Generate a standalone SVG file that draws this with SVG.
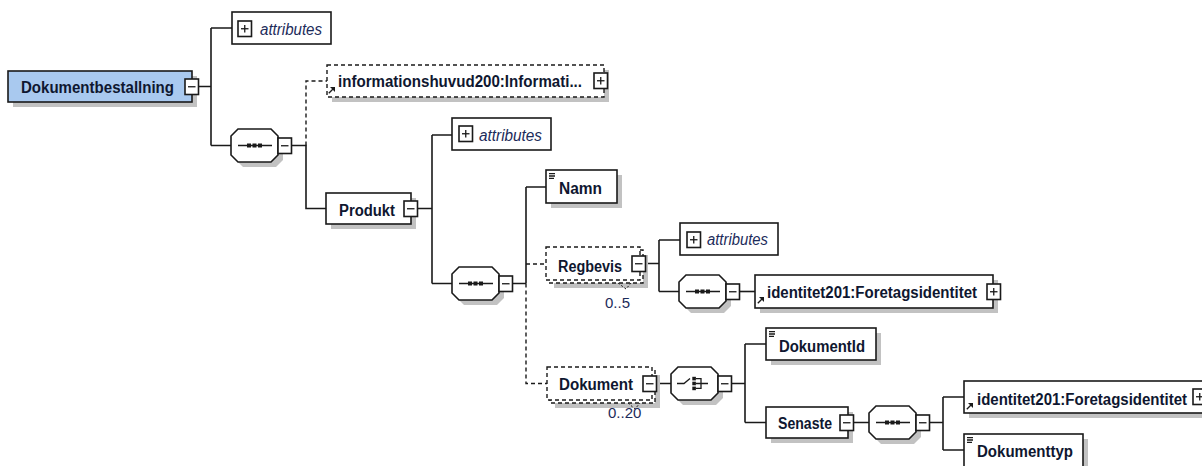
<svg xmlns="http://www.w3.org/2000/svg" xmlns:xlink="http://www.w3.org/1999/xlink" width="1202" height="466" viewBox="0 0 1202 466">
<style>
.bg{fill:#fff}
.box{fill:#fff;stroke:#1a1a1a;stroke-width:1.6}
.root{fill:#a9c9ef;stroke:#1a1a1a;stroke-width:1.6}
.dbox{fill:#fff;stroke:#1a1a1a;stroke-width:1.4;stroke-dasharray:4 3}
.sh{fill:#c2c2c2}
.ln{fill:none;stroke:#1a1a1a;stroke-width:1.6}
.dl{fill:none;stroke:#1a1a1a;stroke-width:1.4;stroke-dasharray:4 3}
.tk{fill:none;stroke:#1a1a1a;stroke-width:1;stroke-dasharray:2 2}
.ico{fill:none;stroke:#1a1a1a;stroke-width:1.3}
.dot{fill:#1a1a1a}
.nm{font-family:"Liberation Sans",Arial,sans-serif;font-weight:bold;font-size:16px;fill:#0f1730}
.at{font-family:"Liberation Sans",Arial,sans-serif;font-style:italic;font-size:16px;fill:#1c2b5a}
.oc{font-family:"Liberation Sans",Arial,sans-serif;font-size:15px;fill:#1c2b5a}
</style>
<defs>
<g id="minus"><rect x="0" y="0" width="13.5" height="15.5" class="box"/><line x1="3" y1="7.75" x2="10.5" y2="7.75" class="ico"/></g>
<g id="plus"><rect x="0" y="0" width="13.5" height="15.5" class="box"/><line x1="3" y1="7.75" x2="10.5" y2="7.75" class="ico"/><line x1="6.75" y1="4" x2="6.75" y2="11.5" class="ico"/></g>
<g id="oct"><polygon class="sh" points="12,5 45,5 52,12 52,31 45,38 12,38 5,31 5,12"/><polygon class="box" points="7,0 40,0 47,7 47,26 40,33 7,33 0,26 0,7"/></g>
<g id="seq"><use xlink:href="#oct"/><line x1="7" y1="16.5" x2="41" y2="16.5" class="ico"/><rect class="dot" x="16" y="14.5" width="4" height="4"/><rect class="dot" x="21.5" y="14.5" width="4" height="4"/><rect class="dot" x="27" y="14.5" width="4" height="4"/></g>
<g id="choice"><use xlink:href="#oct"/><path class="ico" d="M6,16.5 H13 L19,11.5"/><rect class="dot" x="21.3" y="9.8" width="3.6" height="3.6"/><rect class="dot" x="21.3" y="14.7" width="3.6" height="3.6"/><rect class="dot" x="21.3" y="19.6" width="3.6" height="3.6"/><path class="ico" d="M25,11.6 H30 V21.4 H25 M25,16.5 H37"/></g>
<g id="doc"><path class="ico" d="M0,0.6 H6 M0,3 H6 M0,5.4 H5"/></g>
<g id="ref"><path class="ico" stroke-width="1.7" d="M0.8,7.2 L5,3"/><polygon class="dot" points="7,1 7,6 2,1"/></g>
</defs>
<rect class="bg" x="0" y="0" width="1202" height="466"/>

<g id="connectors">
<path class="ln" d="M198,86.5 H211 M211,28 V145.5 M211,28 H232 M211,145.5 H231"/>
<path class="ln" d="M291,145.5 H306 V208.5 H326"/>
<path class="dl" d="M306,145.5 V81 H327"/>
<path class="ln" d="M417,208.5 H432 M432,135 V283.5 M432,135 H452 M432,283.5 H452"/>
<path class="ln" d="M512,283.5 H526 M526,187 V283.5 M526,187 H546"/>
<path class="dl" d="M526,283.5 V383.5 H547 M526,264 H546"/>
<path class="ln" d="M645,263.5 H659 M659,240 V291.5 M659,240 H680 M659,291.5 H679"/>
<path class="ln" d="M739,291.5 H755"/>
<path class="ln" d="M656,383.5 H671 M731,383.5 H745 M745,344 V422.5 M745,344 H766 M745,422.5 H766"/>
<path class="ln" d="M853,422.5 H869 M929,422.5 H943 M943,397 V450 M943,397 H964 M943,450 H964"/>
</g>

<g id="n-root">
<rect class="sh" x="13" y="76" width="184" height="31"/>
<rect class="root" x="8" y="71" width="184" height="31"/>
<text class="nm" x="21" y="93" textLength="153" lengthAdjust="spacingAndGlyphs">Dokumentbestallning</text>
<use xlink:href="#minus" x="185" y="79"/>
</g>

<g id="n-attr1">
<rect class="box" x="232" y="12" width="99" height="32"/>
<use xlink:href="#plus" x="238" y="21"/>
<text class="at" x="260" y="35" textLength="62" lengthAdjust="spacingAndGlyphs">attributes</text>
</g>

<g id="n-seq1">
<use xlink:href="#seq" x="231" y="129"/>
<use xlink:href="#minus" x="278" y="138"/>
</g>

<g id="n-info">
<rect class="sh" x="332" y="70" width="277" height="32"/>
<rect class="dbox" x="327" y="65" width="277" height="32"/>
<use xlink:href="#ref" x="328" y="86"/>
<text class="nm" x="338" y="87" textLength="244" lengthAdjust="spacingAndGlyphs">informationshuvud200:Informati...</text>
<use xlink:href="#plus" x="594" y="73"/>
</g>

<g id="n-produkt">
<rect class="sh" x="331" y="198" width="85" height="31"/>
<rect class="box" x="326" y="193" width="85" height="31"/>
<text class="nm" x="339" y="216" textLength="56" lengthAdjust="spacingAndGlyphs">Produkt</text>
<use xlink:href="#minus" x="404" y="201"/>
</g>

<g id="n-attr2">
<rect class="box" x="452" y="118" width="99" height="32"/>
<use xlink:href="#plus" x="459" y="126"/>
<text class="at" x="479" y="141" textLength="63" lengthAdjust="spacingAndGlyphs">attributes</text>
</g>

<g id="n-seq2">
<use xlink:href="#seq" x="452" y="267"/>
<use xlink:href="#minus" x="499" y="276"/>
</g>

<g id="n-namn">
<rect class="sh" x="551" y="175" width="71" height="33"/>
<rect class="box" x="546" y="170" width="71" height="33"/>
<use xlink:href="#doc" x="549" y="173"/>
<text class="nm" x="559" y="194" textLength="43" lengthAdjust="spacingAndGlyphs">Namn</text>
</g>

<g id="n-regbevis">
<rect class="sh" x="554" y="255" width="94" height="33"/>
<rect class="dbox" x="549" y="250" width="94" height="33"/>
<rect class="dbox" x="546" y="247" width="94" height="33"/>
<text class="nm" x="558" y="272" textLength="64" lengthAdjust="spacingAndGlyphs">Regbevis</text>
<use xlink:href="#minus" x="632" y="256"/>
<polyline class="tk" points="618,283 626,289 631,283"/>
<text class="oc" x="605" y="308">0..5</text>
</g>

<g id="n-attr3">
<rect class="box" x="680" y="223" width="98" height="32"/>
<use xlink:href="#plus" x="687" y="232"/>
<text class="at" x="707" y="245" textLength="61" lengthAdjust="spacingAndGlyphs">attributes</text>
</g>

<g id="n-seq3">
<use xlink:href="#seq" x="679" y="275"/>
<use xlink:href="#minus" x="726" y="284"/>
</g>

<g id="n-ident1">
<rect class="sh" x="760" y="280" width="238" height="33"/>
<rect class="box" x="755" y="275" width="238" height="33"/>
<use xlink:href="#ref" x="757" y="296"/>
<text class="nm" x="767" y="298" textLength="210" lengthAdjust="spacingAndGlyphs">identitet201:Foretagsidentitet</text>
<use xlink:href="#plus" x="987" y="284"/>
</g>

<g id="n-dokument">
<rect class="sh" x="555" y="375" width="105" height="33"/>
<rect class="dbox" x="550" y="370" width="105" height="33"/>
<rect class="dbox" x="547" y="367" width="105" height="33"/>
<text class="nm" x="559" y="390" textLength="74" lengthAdjust="spacingAndGlyphs">Dokument</text>
<use xlink:href="#minus" x="643" y="376"/>
<polyline class="tk" points="628,403 635,409 640,403"/>
<text class="oc" x="608" y="418">0..20</text>
</g>

<g id="n-choice">
<use xlink:href="#choice" x="671" y="367"/>
<use xlink:href="#minus" x="718" y="376"/>
</g>

<g id="n-dokumentid">
<rect class="sh" x="771" y="333" width="110" height="32"/>
<rect class="box" x="766" y="328" width="110" height="32"/>
<use xlink:href="#doc" x="769" y="331"/>
<text class="nm" x="779" y="352" textLength="86" lengthAdjust="spacingAndGlyphs">DokumentId</text>
</g>

<g id="n-senaste">
<rect class="sh" x="771" y="412" width="82" height="31"/>
<rect class="box" x="766" y="407" width="82" height="31"/>
<text class="nm" x="778" y="429" textLength="54" lengthAdjust="spacingAndGlyphs">Senaste</text>
<use xlink:href="#minus" x="840" y="415"/>
</g>

<g id="n-seq4">
<use xlink:href="#seq" x="869" y="406"/>
<use xlink:href="#minus" x="916" y="415"/>
</g>

<g id="n-ident2">
<rect class="sh" x="969" y="386" width="245" height="32"/>
<rect class="box" x="964" y="381" width="240" height="32"/>
<use xlink:href="#ref" x="966" y="402"/>
<text class="nm" x="977" y="405" textLength="210" lengthAdjust="spacingAndGlyphs">identitet201:Foretagsidentitet</text>
<use xlink:href="#plus" x="1193" y="389"/>
</g>

<g id="n-dokumenttyp">
<rect class="sh" x="969" y="439" width="119" height="33"/>
<rect class="box" x="964" y="434" width="119" height="33"/>
<use xlink:href="#doc" x="967" y="437"/>
<text class="nm" x="977" y="457" textLength="96" lengthAdjust="spacingAndGlyphs">Dokumenttyp</text>
</g>
</svg>
